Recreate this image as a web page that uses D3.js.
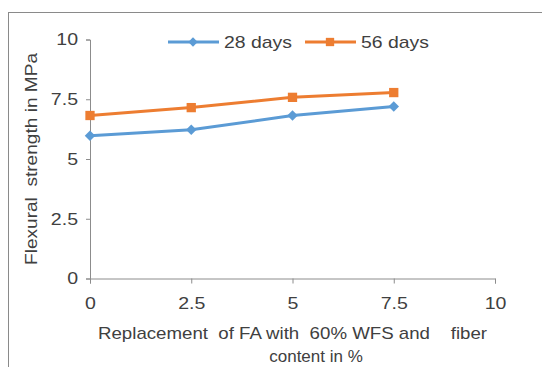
<!DOCTYPE html>
<html>
<head>
<meta charset="utf-8">
<script src="https://cdn.jsdelivr.net/npm/d3@7"></script>
<style>
  body { margin: 0; background: #fff; }
  text { font-family: "Liberation Sans", Arial, sans-serif; fill: #404040; }
</style>
</head>
<body>
<svg id="chart"></svg>
<script>
const xValues = [0, 2.5, 5, 7.5];
const days28 = [5.97, 6.22, 6.82, 7.2];
const days56 = [6.82, 7.15, 7.58, 7.78];
const xTicks = [0, 2.5, 5, 7.5, 10];
const yTicks = [0, 2.5, 5, 7.5, 10];
const seriesNames = ['28 days', '56 days'];

const width = 542;
const height = 367;
const blue = '#5b9bd5';
const orange = '#ed7d31';
const axisColor = '#8c8c8c';
const stretch = 1.15; // the picture is a bit wider than tall

const svg = d3.select('#chart')
    .attr('width', width)
    .attr('height', height);

// outer frame, runs off the right and bottom edges
svg.append('rect')
    .attr('x', 8.5).attr('y', 12.5)
    .attr('width', 560).attr('height', 400)
    .attr('fill', 'none')
    .attr('stroke', '#8a8a8a')
    .attr('stroke-width', 1);

const xScale = d3.scaleLinear().domain([0, 10]).range([90, 495]);
const yScale = d3.scaleLinear().domain([0, 10]).range([278.5, 39.5]);

const xAxis = d3.axisBottom(xScale)
    .tickValues(xTicks)
    .tickSize(5)
    .tickPadding(13)
    .tickFormat(d3.format('~g'));

const yAxis = d3.axisLeft(yScale)
    .tickValues(yTicks)
    .tickSize(4)
    .tickPadding(12)
    .tickFormat(d3.format('~g'));

const gx = svg.append('g')
    .attr('transform', `translate(0, ${yScale(0)})`)
    .call(xAxis);

const gy = svg.append('g')
    .attr('transform', `translate(${xScale(0)}, 0)`)
    .call(yAxis);

[gx, gy].forEach(g => {
    g.select('.domain').attr('stroke', axisColor);
    g.selectAll('.tick line').attr('stroke', axisColor);
    g.selectAll('.tick text')
        .attr('font-size', 17)
        .attr('font-family', '"Liberation Sans", Arial, sans-serif')
        .attr('fill', '#404040');
});
gx.selectAll('.tick text').attr('transform', `scale(${stretch}, 1)`);
gy.selectAll('.tick text')
    .attr('x', -12 / stretch)
    .attr('transform', `scale(${stretch}, 1)`);

const line = d3.line()
    .x((d, i) => xScale(xValues[i]))
    .y(d => yScale(d));

const series = [
    { name: seriesNames[0], values: days28, color: blue, symbol: d3.symbolDiamond2, size: 70 },
    { name: seriesNames[1], values: days56, color: orange, symbol: d3.symbolSquare2, size: 110 }
];

series.forEach(s => {
    svg.append('path')
        .datum(s.values)
        .attr('d', line)
        .attr('fill', 'none')
        .attr('stroke', s.color)
        .attr('stroke-width', 3)
        .attr('stroke-linejoin', 'round');

    svg.selectAll(null)
        .data(s.values)
        .enter()
        .append('path')
        .attr('d', d3.symbol().type(s.symbol).size(s.size))
        .attr('transform', (d, i) => `translate(${xScale(xValues[i])}, ${yScale(d)})`)
        .attr('fill', s.color);
});

// legend
const legendX = [168, 305];
const legendY = 42;
series.forEach((s, i) => {
    const g = svg.append('g').attr('transform', `translate(${legendX[i]}, ${legendY})`);
    g.append('line')
        .attr('x1', 0).attr('x2', 51)
        .attr('y1', 0).attr('y2', 0)
        .attr('stroke', s.color)
        .attr('stroke-width', 3);
    g.append('path')
        .attr('d', d3.symbol().type(s.symbol).size(s.size * 0.8))
        .attr('transform', 'translate(25, 0)')
        .attr('fill', s.color);
    g.append('text')
        .attr('x', 56)
        .attr('y', 6)
        .attr('font-size', 17)
        .attr('textLength', 68)
        .attr('lengthAdjust', 'spacingAndGlyphs')
        .text(s.name);
});

// axis titles
svg.append('text')
    .attr('transform', `translate(37, 159) rotate(-90)`)
    .attr('text-anchor', 'middle')
    .attr('font-size', 17)
    .attr('textLength', 212)
    .attr('lengthAdjust', 'spacingAndGlyphs')
    .style('white-space', 'pre')
    .text('Flexural  strength in MPa');

svg.append('text')
    .attr('x', 98)
    .attr('y', 339)
    .attr('font-size', 17)
    .attr('textLength', 389)
    .attr('lengthAdjust', 'spacingAndGlyphs')
    .style('white-space', 'pre')
    .text('Replacement  of FA with  60% WFS and    fiber');

svg.append('text')
    .attr('x', 316)
    .attr('y', 362)
    .attr('text-anchor', 'middle')
    .attr('font-size', 17)
    .text('content in %');
</script>
</body>
</html>
